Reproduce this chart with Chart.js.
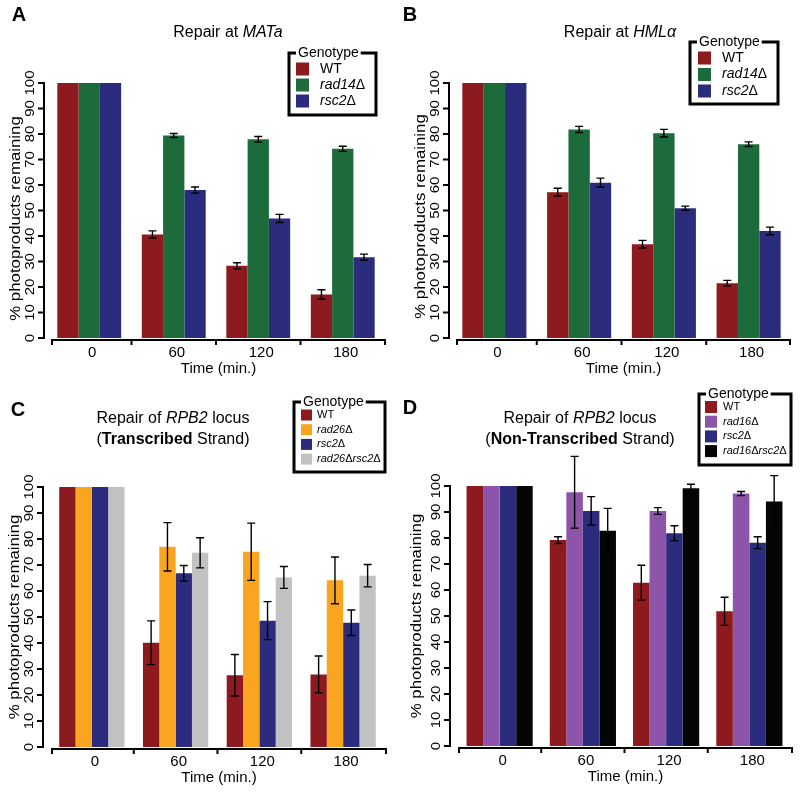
<!DOCTYPE html>
<html>
<head>
<meta charset="utf-8">
<script src="https://cdn.jsdelivr.net/npm/chart.js@4.4.0/dist/chart.umd.min.js"></script>
<style>
  body { margin: 0; background: #fff; width: 800px; height: 792px; position: relative; overflow: hidden; }
  canvas { position: absolute; }
</style>
</head>
<body>
<canvas id="chartA" style="left:0;top:0" width="400" height="380"></canvas>
<canvas id="chartB" style="left:400px;top:0" width="400" height="380"></canvas>
<canvas id="chartC" style="left:0;top:380px" width="400" height="412"></canvas>
<canvas id="chartD" style="left:400px;top:380px" width="400" height="412"></canvas>
<script>
// data
var timeLabels = ['0', '60', '120', '180'];
var yTicks = [0, 10, 20, 30, 40, 50, 60, 70, 80, 90, 100];

// A - Repair at MATa
var aWT = [100, 40.6, 28.3, 17.1];
var aWTErr = [0, 1.4, 1.2, 1.8];
var aRad14 = [100, 79.4, 77.9, 74.2];
var aRad14Err = [0, 0.8, 1.1, 1.0];
var aRsc2 = [100, 58.0, 46.9, 31.7];
var aRsc2Err = [0, 1.2, 1.6, 1.2];

// B - Repair at HMLalpha
var bWT = [100, 57.2, 36.8, 21.5];
var bWTErr = [0, 1.5, 1.5, 1.1];
var bRad14 = [100, 81.8, 80.3, 76.0];
var bRad14Err = [0, 1.2, 1.5, 0.9];
var bRsc2 = [100, 60.9, 50.9, 42.0];
var bRsc2Err = [0, 1.8, 0.8, 1.5];

// C - RPB2 transcribed strand
var cWT = [100, 40.1, 27.6, 27.9];
var cWTErr = [0, 8.4, 8.0, 7.1];
var cRad26 = [100, 77.0, 75.1, 64.1];
var cRad26Err = [0, 9.3, 11.0, 9.0];
var cRsc2 = [100, 66.8, 48.6, 47.8];
var cRsc2Err = [0, 3.0, 7.3, 4.9];
var cDouble = [100, 74.7, 65.2, 65.9];
var cDoubleErr = [0, 5.8, 4.2, 4.3];

// D - RPB2 non-transcribed strand
var dWT = [100, 79.2, 62.8, 51.8];
var dWTErr = [0, 1.3, 6.7, 5.4];
var dRad16 = [100, 97.6, 90.4, 97.1];
var dRad16Err = [0, 13.8, 1.3, 0.8];
var dRsc2 = [100, 90.4, 81.8, 78.2];
var dRsc2Err = [0, 5.5, 2.9, 2.3];
var dDouble = [100, 82.8, 99.1, 94.0];
var dDoubleErr = [0, 8.6, 1.6, 10.0];

var RED = '#8c1a1f', GREEN = '#1d6b3b', NAVY = '#2b2c7d';
var ORANGE = '#f9a51f', GREY = '#c2c2c2', PURPLE = '#8d55a9', BLACK = '#050505';
var FONT = '"Liberation Sans", Arial, sans-serif';

// draw text made of styled pieces, e.g. [['Repair at ', ''], ['MATa', 'italic']]
function richText(ctx, parts, x, y, size, align) {
    var w = 0;
    parts.forEach(function(p) {
        ctx.font = p[1] + ' ' + size + 'px ' + FONT;
        w += ctx.measureText(p[0]).width;
    });
    var cx = align === 'center' ? x - w / 2 : x;
    ctx.textAlign = 'left';
    ctx.textBaseline = 'middle';
    parts.forEach(function(p) {
        ctx.font = p[1] + ' ' + size + 'px ' + FONT;
        ctx.fillText(p[0], cx, y);
        cx += ctx.measureText(p[0]).width;
    });
}

// genotype names are italic, the delta stays upright
function genoParts(label) {
    if (label === 'WT') return [['WT', '']];
    var out = [];
    label.split(/(Δ)/).forEach(function(s) {
        if (s === '') return;
        out.push([s, s === 'Δ' ? '' : 'italic']);
    });
    return out;
}

// vertical text, stretched a bit along its length like the original
function upText(ctx, text, x, y, size, stretch) {
    ctx.save();
    ctx.translate(x, y);
    ctx.rotate(-Math.PI / 2);
    ctx.scale(stretch, 1);
    ctx.font = size + 'px ' + FONT;
    ctx.textAlign = 'center';
    ctx.textBaseline = 'middle';
    ctx.fillText(text, 0, 0);
    ctx.restore();
}

var rAxes = {
    id: 'rAxes',
    afterDatasetsDraw: function(chart) {
        var ctx = chart.ctx, p = chart.options.panel;
        var xs = chart.scales.x, ys = chart.scales.y;
        ctx.save();
        ctx.strokeStyle = '#000';
        ctx.fillStyle = '#000';

        // error bars
        ctx.lineWidth = 1.4;
        chart.data.datasets.forEach(function(ds, di) {
            var meta = chart.getDatasetMeta(di);
            meta.data.forEach(function(bar, i) {
                var e = ds.err[i];
                if (!e) return;
                var hi = ys.getPixelForValue(ds.data[i] + e);
                var lo = ys.getPixelForValue(ds.data[i] - e);
                ctx.beginPath();
                ctx.moveTo(bar.x, hi); ctx.lineTo(bar.x, lo);
                ctx.moveTo(bar.x - 4, hi); ctx.lineTo(bar.x + 4, hi);
                ctx.moveTo(bar.x - 4, lo); ctx.lineTo(bar.x + 4, lo);
                ctx.stroke();
            });
        });

        // y axis
        ctx.lineWidth = 2;
        var ax = p.yAxisX;
        ctx.beginPath();
        ctx.moveTo(ax, ys.getPixelForValue(0) + 1);
        ctx.lineTo(ax, ys.getPixelForValue(100) - 1);
        ctx.stroke();
        yTicks.forEach(function(v) {
            var y = ys.getPixelForValue(v);
            ctx.beginPath(); ctx.moveTo(ax - 6, y); ctx.lineTo(ax, y); ctx.stroke();
            upText(ctx, String(v), ax - 13, y, 12, 1.25);
        });
        upText(ctx, '% photoproducts remaining', p.yTitleX,
            (ys.getPixelForValue(0) + ys.getPixelForValue(100)) / 2 + p.yTitleShift, 14, 1.2);

        // x axis
        var xy = ys.getPixelForValue(0) + 2;
        var x0 = p.xAxisStart, x1 = p.xAxisEnd;
        ctx.beginPath(); ctx.moveTo(x0, xy); ctx.lineTo(x1, xy); ctx.stroke();
        var marks = [x0];
        for (var i = 0; i < timeLabels.length - 1; i++) {
            marks.push((xs.getPixelForTick(i) + xs.getPixelForTick(i + 1)) / 2);
        }
        marks.push(x1);
        marks.forEach(function(m) {
            ctx.beginPath(); ctx.moveTo(m, xy - 1); ctx.lineTo(m, xy + 5); ctx.stroke();
        });
        ctx.font = '15px ' + FONT;
        ctx.textAlign = 'center';
        ctx.textBaseline = 'middle';
        timeLabels.forEach(function(l, i) {
            ctx.fillText(l, xs.getPixelForTick(i) + 3, xy + 13);
        });
        ctx.fillText('Time (min.)', (x0 + x1) / 2, xy + 29);

        // panel letter and title
        ctx.font = 'bold 20px ' + FONT;
        ctx.textAlign = 'center';
        ctx.fillText(p.letter, p.letterX, p.letterY);
        p.title.forEach(function(line, k) {
            richText(ctx, line, p.titleX, p.titleY + k * 21, 16, 'center');
        });

        // legend box
        var L = p.legend;
        ctx.lineWidth = 3;
        ctx.strokeRect(L.x, L.y, L.w, L.h);
        ctx.font = '14px ' + FONT;
        var gw = ctx.measureText('Genotype').width;
        ctx.fillStyle = '#fff';
        ctx.fillRect(L.x + 7, L.y - 3, gw + 4, 6);
        ctx.fillStyle = '#000';
        ctx.textAlign = 'left';
        ctx.fillText('Genotype', L.x + 9, L.y);
        chart.data.datasets.forEach(function(ds, di) {
            var ry = L.rowY + di * L.rowGap;
            ctx.fillStyle = ds.backgroundColor;
            ctx.fillRect(L.swX, ry - L.sw / 2, L.sw, L.sw);
            ctx.fillStyle = '#000';
            richText(ctx, genoParts(ds.label), L.textX, ry, L.font, 'left');
        });
        ctx.restore();
    }
};

function makeSet(label, data, err, color) {
    return {
        label: label, data: data, err: err,
        backgroundColor: color,
        borderWidth: 0
    };
}

function makePanel(id, datasets, catPct, pad, panel) {
    return new Chart(document.getElementById(id).getContext('2d'), {
        type: 'bar',
        data: { labels: timeLabels, datasets: datasets },
        options: {
            responsive: false,
            animation: false,
            layout: { padding: pad },
            datasets: { bar: { categoryPercentage: catPct, barPercentage: 1 } },
            plugins: { legend: { display: false }, tooltip: { enabled: false } },
            scales: {
                x: { display: false },
                y: { display: false, min: 0, max: 100 }
            },
            panel: panel
        },
        plugins: [rAxes]
    });
}

makePanel('chartA', [
    makeSet('WT', aWT, aWTErr, RED),
    makeSet('rad14Δ', aRad14, aRad14Err, GREEN),
    makeSet('rsc2Δ', aRsc2, aRsc2Err, NAVY)
], 0.756, { left: 47, right: 15, top: 83, bottom: 42 }, {
    letter: 'A', letterX: 19, letterY: 15,
    title: [[['Repair at ', ''], ['MATa', 'italic']]], titleX: 228, titleY: 33,
    yAxisX: 44, yTitleX: 16, yTitleShift: 8, xAxisStart: 52, xAxisEnd: 385,
    legend: { x: 289, y: 53, w: 87, h: 62, rowY: 69, rowGap: 16, swX: 296, sw: 13, textX: 320, font: 14 }
});

makePanel('chartB', [
    makeSet('WT', bWT, bWTErr, RED),
    makeSet('rad14Δ', bRad14, bRad14Err, GREEN),
    makeSet('rsc2Δ', bRsc2, bRsc2Err, NAVY)
], 0.756, { left: 52, right: 9, top: 83, bottom: 42 }, {
    letter: 'B', letterX: 10, letterY: 15,
    title: [[['Repair at ', ''], ['HMLα', 'italic']]], titleX: 220, titleY: 33,
    yAxisX: 49, yTitleX: 21, yTitleShift: 6, xAxisStart: 57, xAxisEnd: 390,
    legend: { x: 290, y: 42, w: 88, h: 62, rowY: 58, rowGap: 16.5, swX: 298, sw: 13, textX: 322, font: 14 }
});

makePanel('chartC', [
    makeSet('WT', cWT, cWTErr, RED),
    makeSet('rad26Δ', cRad26, cRad26Err, ORANGE),
    makeSet('rsc2Δ', cRsc2, cRsc2Err, NAVY),
    makeSet('rad26Δrsc2Δ', cDouble, cDoubleErr, GREY)
], 0.78, { left: 50, right: 15, top: 107, bottom: 45 }, {
    letter: 'C', letterX: 18, letterY: 30,
    title: [
        [['Repair of ', ''], ['RPB2', 'italic'], [' locus', '']],
        [['(', ''], ['Transcribed', 'bold'], [' Strand)', '']]
    ], titleX: 173, titleY: 39,
    yAxisX: 43, yTitleX: 15, yTitleShift: 0, xAxisStart: 52, xAxisEnd: 386,
    legend: { x: 294, y: 22, w: 91, h: 70, rowY: 35, rowGap: 14.7, swX: 301, sw: 11, textX: 317, font: 11 }
});

makePanel('chartD', [
    makeSet('WT', dWT, dWTErr, RED),
    makeSet('rad16Δ', dRad16, dRad16Err, PURPLE),
    makeSet('rsc2Δ', dRsc2, dRsc2Err, NAVY),
    makeSet('rad16Δrsc2Δ', dDouble, dDoubleErr, BLACK)
], 0.795, { left: 58, right: 9, top: 106, bottom: 46 }, {
    letter: 'D', letterX: 10, letterY: 28,
    title: [
        [['Repair of ', ''], ['RPB2', 'italic'], [' locus', '']],
        [['(', ''], ['Non-Transcribed', 'bold'], [' Strand)', '']]
    ], titleX: 180, titleY: 39,
    yAxisX: 50, yTitleX: 17, yTitleShift: 0, xAxisStart: 59, xAxisEnd: 392,
    legend: { x: 299, y: 14, w: 92, h: 71, rowY: 27, rowGap: 14.7, swX: 305, sw: 12, textX: 323, font: 11 }
});
</script>
</body>
</html>
